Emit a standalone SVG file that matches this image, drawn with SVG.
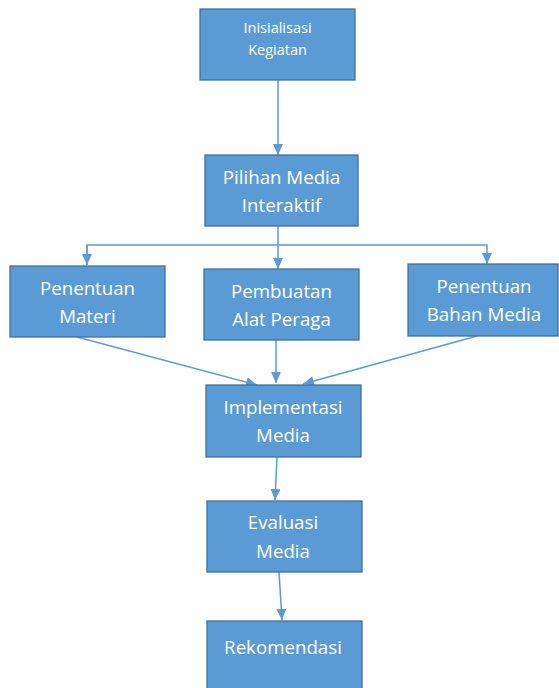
<svg xmlns="http://www.w3.org/2000/svg" width="559" height="688" viewBox="0 0 559 688">
<style>
.box{fill:#5B9BD5;stroke:#41719C;stroke-width:1.3}
.t{font-family:"Open Sans","Noto Sans",sans-serif;font-size:18.7px;fill:#FFFFFF;text-anchor:middle}
.s{font-size:14.5px}
.c{fill:none;stroke:#5B9BD5;stroke-width:1.5}
</style>
<defs>
<marker id="ah" markerUnits="userSpaceOnUse" markerWidth="12" markerHeight="10" refX="11" refY="5" orient="auto">
<path d="M0,0 L11,5 L0,10 Z" fill="#5B9BD5"/>
</marker>
</defs>
<rect width="559" height="688" fill="#FFFFFF"/>
<g id="connectors">
<line class="c" x1="278" y1="80" x2="278" y2="155" marker-end="url(#ah)"/>
<line class="c" x1="278" y1="226" x2="278" y2="269" marker-end="url(#ah)"/>
<polyline class="c" points="87,265 87,245 487,245 487,264" marker-end="url(#ah)"/>
<line class="c" x1="87" y1="245" x2="87" y2="265" marker-end="url(#ah)"/>
<line class="c" x1="77" y1="337" x2="257" y2="385" marker-end="url(#ah)"/>
<line class="c" x1="276" y1="340" x2="276" y2="383" marker-end="url(#ah)"/>
<line class="c" x1="477" y1="336" x2="303" y2="384" marker-end="url(#ah)"/>
<line class="c" x1="277" y1="457" x2="275" y2="500" marker-end="url(#ah)"/>
<line class="c" x1="279" y1="572" x2="282" y2="620" marker-end="url(#ah)"/>
</g>
<g id="n1"><rect class="box" x="200" y="9" width="155" height="71"/>
<text class="t s" x="277.5" y="33">Inisialisasi</text><text class="t s" x="277.5" y="55">Kegiatan</text></g>
<g id="n2"><rect class="box" x="205" y="155" width="153" height="71"/>
<text class="t" x="281.5" y="184">Pilihan Media</text><text class="t" x="281.5" y="212">Interaktif</text></g>
<g id="n3"><rect class="box" x="10" y="266" width="155" height="71"/>
<text class="t" x="87.5" y="295">Penentuan</text><text class="t" x="87.5" y="323">Materi</text></g>
<g id="n4"><rect class="box" x="204" y="269" width="155" height="71"/>
<text class="t" x="281.5" y="298">Pembuatan</text><text class="t" x="281.5" y="326">Alat Peraga</text></g>
<g id="n5"><rect class="box" x="408" y="264" width="150" height="72"/>
<text class="t" x="484" y="293">Penentuan</text><text class="t" x="484" y="321">Bahan Media</text></g>
<g id="n6"><rect class="box" x="206" y="385" width="155" height="72"/>
<text class="t" x="283" y="414">Implementasi</text><text class="t" x="283" y="442">Media</text></g>
<g id="n7"><rect class="box" x="207" y="501" width="155" height="71"/>
<text class="t" x="283" y="529">Evaluasi</text><text class="t" x="283" y="558">Media</text></g>
<g id="n8"><rect class="box" x="207" y="621" width="155" height="75"/>
<text class="t" x="283" y="654">Rekomendasi</text></g>
</svg>
